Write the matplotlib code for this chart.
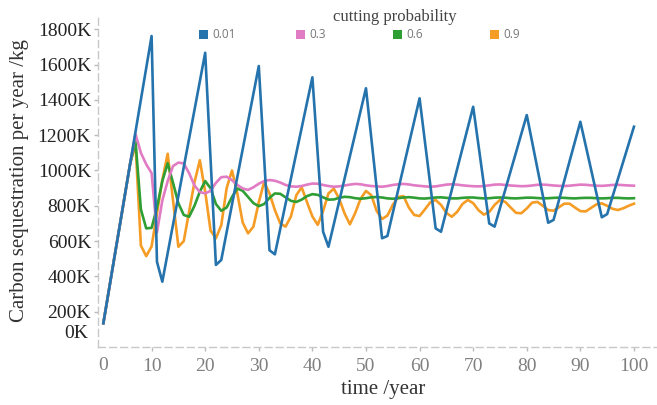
import matplotlib
matplotlib.use('Agg')
import matplotlib.pyplot as plt
from matplotlib.patches import Rectangle

# simulated years
years = list(range(1, 101))

# carbon sequestration per year (K kg) for each cutting probability
seq_001 = [135, 316, 497, 677, 858, 1039, 1220, 1401, 1581, 1762,
           483, 370, 532, 694, 856, 1019, 1181, 1343, 1505, 1667,
           1066, 465, 493, 650, 807, 964, 1121, 1278, 1435, 1592,
           1070, 548, 525, 668, 812, 955, 1098, 1241, 1385, 1528,
           1090, 653, 568, 696, 825, 953, 1081, 1209, 1338, 1466,
           1183, 899, 616, 629, 759, 889, 1019, 1149, 1279, 1409,
           1163, 918, 672, 653, 771, 889, 1007, 1125, 1243, 1361,
           1141, 920, 700, 682, 787, 892, 998, 1103, 1209, 1314,
           1162, 1009, 857, 704, 720, 831, 942, 1054, 1165, 1276,
           1141, 1006, 870, 735, 753, 852, 951, 1050, 1149, 1248]

seq_03 = [135, 316, 497, 677, 858, 1039, 1207, 1100, 1035, 985,
          650, 830, 940, 1025, 1045, 1040, 985, 915, 878, 870,
          885, 930, 962, 965, 945, 918, 898, 890, 905, 925,
          940, 946, 942, 932, 918, 910, 908, 912, 920, 926,
          925, 918, 912, 908, 910, 915, 920, 924, 922, 916,
          912, 910, 908, 912, 918, 922, 924, 921, 916, 913,
          910, 908, 910, 915, 920, 922, 920, 916, 913, 911,
          910, 912, 916, 920, 921, 918, 915, 913, 911, 912,
          915, 919, 920, 918, 915, 913, 912, 914, 917, 920,
          919, 916, 914, 913, 915, 918, 919, 917, 915, 914]

seq_06 = [135, 316, 497, 677, 858, 1039, 1165, 780, 672, 675,
          790, 940, 1041, 930, 814, 748, 738, 800, 880, 940,
          900, 810, 772, 790, 850, 898, 885, 850, 815, 798,
          810, 845, 870, 868, 848, 828, 822, 835, 855, 866,
          862, 848, 835, 836, 845, 851, 849, 843, 840, 843,
          848, 850, 847, 842, 840, 843, 847, 849, 846, 842,
          841, 844, 847, 848, 845, 842, 842, 845, 847, 847,
          844, 842, 843, 846, 847, 846, 843, 842, 844, 846,
          846, 844, 842, 843, 845, 846, 845, 843, 842, 844,
          845, 845, 843, 842, 843, 845, 845, 843, 842, 843]

seq_09 = [135, 316, 497, 677, 858, 1039, 1150, 575, 515, 570,
          757, 946, 1095, 830, 568, 600, 767, 933, 1058, 880,
          660, 616, 690, 900, 1000, 870, 705, 644, 682, 820,
          935, 870, 776, 700, 682, 740, 860, 905, 820, 740,
          692, 770, 870, 897, 840, 757, 695, 760, 840, 884,
          860, 770, 725, 745, 805, 850, 855, 790, 748, 742,
          780, 820, 833, 805, 760, 738, 765, 810, 833, 815,
          775, 750, 765, 805, 833, 822, 790, 760, 758, 785,
          818, 822, 800, 776, 772, 792, 812, 812, 790, 770,
          768, 788, 808, 814, 800, 783, 776, 786, 800, 812]

labels = ['0.01', '0.3', '0.6', '0.9']
colours = ['#2573ad', '#e07bc4', '#2f9e34', '#f59c25']
series = [seq_001, seq_03, seq_06, seq_09]

serif = 'Liberation Serif'

fig = plt.figure(figsize=(6.57, 4.05), dpi=100)
ax = fig.add_axes([98 / 657, 58 / 405, 559 / 657, 332 / 405])

# draw the low-probability series last so it sits on top
for vals, col in reversed(list(zip(series, colours))):
    ax.plot(years, vals, color=col, linewidth=1.9, zorder=3)

ax.set_xlim(0, 104.3)
ax.set_ylim(0, 1881)

ax.set_xticks(range(10, 101, 10))
ax.set_yticks(range(200, 1801, 200))
ax.set_yticklabels(['%dK' % v for v in range(200, 1801, 200)])

for s in ['top', 'right']:
    ax.spines[s].set_visible(False)
for s in ['left', 'bottom']:
    ax.spines[s].set_linestyle((0, (5, 3)))
    ax.spines[s].set_color('#c8c8c8')
    ax.spines[s].set_linewidth(1)

ax.tick_params(axis='both', length=3, width=1, color='#bbbbbb')
ax.tick_params(axis='y', pad=2, labelcolor='#222222')
ax.tick_params(axis='x', pad=5, labelcolor='#808080')
for lab in ax.get_yticklabels() + ax.get_xticklabels():
    lab.set_family(serif)
    lab.set_fontsize(14)

# zero labels sit slightly off the corner, as in the original
ax.annotate('0K', xy=(0, 0), xytext=(-7, 10), textcoords='offset points',
            ha='right', va='center', fontsize=14, family=serif, color='#222222')
ax.annotate('0', xy=(0, 0), xytext=(4, -7), textcoords='offset points',
            ha='center', va='top', fontsize=14, family=serif, color='#808080')

ax.set_ylabel('Carbon sequestration per year /kg', family=serif, fontsize=15,
              color='#333333', labelpad=6)
ax.set_xlabel('time /year', family=serif, fontsize=15, color='#333333', labelpad=5)
ax.xaxis.set_label_coords(0.51, -0.1)

# legend drawn by hand in pixel positions (horizontal, title above)
fig.text(395 / 657, 1 - 17 / 405, 'cutting probability', family=serif,
         fontsize=12, color='#444444', ha='center', va='center')
for i, (lab, col) in enumerate(zip(labels, colours)):
    x0 = 199 + 97 * i
    fig.patches.append(Rectangle((x0 / 657, 1 - 39 / 405), 9 / 657, 9 / 405,
                                 transform=fig.transFigure, facecolor=col,
                                 edgecolor='none'))
    fig.text((x0 + 13) / 657, 1 - 34.5 / 405, lab, family='Open Sans',
             fontsize=8.5, color='#777777', ha='left', va='center')

fig.savefig('out.png', dpi=100)
